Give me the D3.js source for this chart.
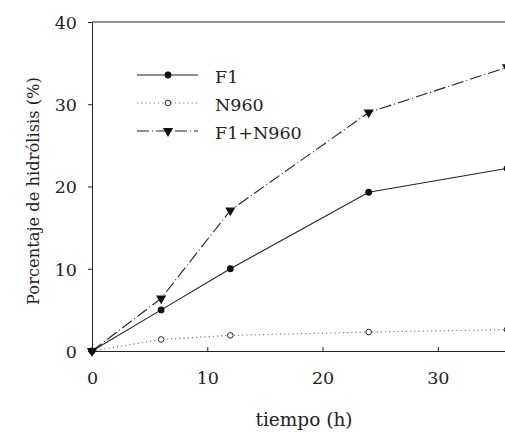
<!DOCTYPE html>
<html>
<head>
<meta charset="utf-8">
<script src="https://cdn.jsdelivr.net/npm/d3@7"></script>
<style>
  body { margin: 0; background: #fff; }
</style>
</head>
<body>
<div id="chart"></div>
<script>
// data
const hours = [0, 6, 12, 24, 36];
const f1 = [0, 5.0, 10.0, 19.3, 22.2];
const n960 = [0, 1.4, 1.9, 2.3, 2.6];
const f1n960 = [0, 6.4, 17.1, 29.0, 34.5];
const seriesNames = ["F1", "N960", "F1+N960"];
const yTicks = [0, 10, 20, 30, 40];
const xTicks = [0, 10, 20, 30];

const FONT = "DejaVu Serif, serif";
const FS = 17.5;

const W = 505, H = 432;
const margin = {top: 22, right: -2, bottom: 81, left: 92};
const width = W - margin.left - margin.right,
    height = H - margin.top - margin.bottom;

const svg = d3.select("#chart").append("svg")
    .attr("width", W).attr("height", H)
    .attr("font-family", FONT);
const g = svg.append("g").attr("transform", `translate(${margin.left},${margin.top})`);

const x = d3.scaleLinear().domain([0, 36]).range([0, width]);
const y = d3.scaleLinear().domain([0, 40]).range([height, 0]);

// top frame line
g.append("line").attr("x1", 0).attr("x2", width).attr("y1", 0).attr("y2", 0)
    .attr("stroke", "#222").attr("stroke-width", 1);

// y axis, ticks outside
const yAxis = g.append("g")
    .call(d3.axisLeft(y).tickValues(yTicks).tickSize(4).tickPadding(11).tickSizeOuter(0));
// x axis, ticks pointing inwards
const xAxis = g.append("g").attr("transform", `translate(0,${height})`)
    .call(d3.axisBottom(x).tickValues(xTicks).tickSize(-4).tickPadding(21).tickSizeOuter(0));

[xAxis, yAxis].forEach(a => {
  a.attr("font-family", FONT);
  a.select(".domain").attr("stroke", "#222");
  a.selectAll(".tick line").attr("stroke", "#222");
  a.selectAll(".tick text").attr("font-size", FS).attr("fill", "#222");
});
xAxis.selectAll(".tick text").attr("dy", "0.71em");
yAxis.selectAll(".tick text").attr("dy", "0.36em");

// axis titles
svg.append("text")
    .attr("transform", "translate(39,191) rotate(-90)")
    .attr("text-anchor", "middle").attr("font-size", 16.3).attr("fill", "#222")
    .text("Porcentaje de hidrólisis (%)");
svg.append("text")
    .attr("x", 304).attr("y", 426)
    .attr("text-anchor", "middle").attr("font-size", 18.5).attr("fill", "#222")
    .text("tiempo (h)");

const styles = [
  {vals: f1, dash: null, stroke: "#222", marker: "dot"},
  {vals: n960, dash: "1.2,3", stroke: "#777", marker: "open"},
  {vals: f1n960, dash: "12,3,1,3", stroke: "#222", marker: "tri"}
];

const line = d3.line().x(d => x(d[0])).y(d => y(d[1]));

function drawMarker(sel, type) {
  if (type === "dot") {
    sel.append("circle").attr("r", 3.4).attr("fill", "#111");
  } else if (type === "open") {
    sel.append("circle").attr("r", 2.8).attr("fill", "#fff").attr("stroke", "#222").attr("stroke-width", 1);
  } else {
    sel.append("path").attr("d", d3.symbol(d3.symbolTriangle, 45)).attr("transform", "rotate(180)")
      .attr("fill", "#111");
  }
}

const plot = g.append("g");
styles.forEach(s => {
  const pts = hours.map((h, i) => [h, s.vals[i]]);
  plot.append("path").datum(pts).attr("d", line)
    .attr("fill", "none").attr("stroke", s.stroke).attr("stroke-width", 1.1)
    .attr("stroke-dasharray", s.dash);
});
styles.slice().reverse().forEach(s => {
  hours.forEach((h, i) => {
    const m = plot.append("g").attr("transform", `translate(${x(h)},${y(s.vals[i])})`);
    drawMarker(m, s.marker);
  });
});

// legend
const legend = svg.append("g").attr("transform", "translate(137,75)");
styles.forEach((s, i) => {
  const row = legend.append("g").attr("transform", `translate(0,${i * 28})`);
  row.append("line").attr("x1", 0).attr("x2", 61).attr("y1", 0).attr("y2", 0)
    .attr("stroke", s.stroke).attr("stroke-width", 1.1).attr("stroke-dasharray", s.dash);
  drawMarker(row.append("g").attr("transform", "translate(31,0)"), s.marker);
  row.append("text").attr("x", 78).attr("y", 7.5)
    .attr("font-size", FS).attr("fill", "#222")
    .text(seriesNames[i]);
});
</script>
</body>
</html>
